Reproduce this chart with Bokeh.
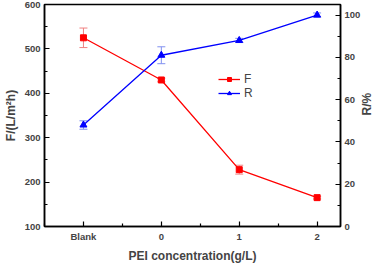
import math
from bokeh.plotting import figure
from bokeh.models import (Range1d, LinearAxis, FixedTicker, Whisker, ColumnDataSource,
                          TeeHead, Legend, LegendItem)
from bokeh.embed import file_html
from bokeh.resources import INLINE

categories = ["Blank", "0", "1", "2"]
flux = [525, 430, 228, 165]
flux_err = [22, 4, 10, 3]
rejection = [48, 81, 88, 100]
rejection_err = [2, 4, 1, 1]

xs = list(range(len(categories)))
FONT = "Liberation Sans"

p = figure(width=362, height=254, output_backend="svg", toolbar_location=None,
           x_range=Range1d(-0.5, 3.3), y_range=Range1d(100, 600),
           min_border_left=30, min_border_right=36, min_border_top=4, min_border_bottom=28)
p.frame_width = 296
p.frame_height = 222
p.xgrid.visible = False
p.ygrid.visible = False
p.outline_line_color = "black"
p.outline_line_width = 1.5
p.background_fill_color = "white"

p.extra_y_ranges = {"r": Range1d(0, 105)}
ax_r = LinearAxis(y_range_name="r", axis_label="R/%")
p.add_layout(ax_r, "right")

src_f = ColumnDataSource(dict(x=xs, y=flux,
                              lo=[a - b for a, b in zip(flux, flux_err)],
                              hi=[a + b for a, b in zip(flux, flux_err)]))
src_r = ColumnDataSource(dict(x=xs, y=rejection,
                              lo=[a - b for a, b in zip(rejection, rejection_err)],
                              hi=[a + b for a, b in zip(rejection, rejection_err)]))

wf = Whisker(source=src_f, base="x", lower="lo", upper="hi", line_color="#f08080",
             line_width=1,
             upper_head=TeeHead(size=8, line_color="#f08080"),
             lower_head=TeeHead(size=8, line_color="#f08080"))
wr = Whisker(source=src_r, base="x", lower="lo", upper="hi", line_color="#8090f0",
             line_width=1, y_range_name="r",
             upper_head=TeeHead(size=8, line_color="#8090f0"),
             lower_head=TeeHead(size=8, line_color="#8090f0"))
p.add_layout(wf)
p.add_layout(wr)

lf = p.line("x", "y", source=src_f, color="red", line_width=1.3)
mf = p.scatter("x", "y", source=src_f, marker="square", size=6, color="red")
lr = p.line("x", "y", source=src_r, color="blue", line_width=1.3, y_range_name="r")
mr = p.scatter("x", "y", source=src_r, marker="triangle", size=7, color="blue", y_range_name="r")

legend = Legend(items=[LegendItem(label="F", renderers=[lf, mf]),
                       LegendItem(label="R", renderers=[lr, mr])],
                location=(174, 126), border_line_color=None, background_fill_alpha=0,
                label_text_font=FONT, label_text_font_size="12px",
                label_text_line_height=0.9,
                glyph_width=22, glyph_height=10, label_height=10, spacing=0,
                padding=0, margin=0, label_standoff=4)
p.add_layout(legend, "center")

p.xaxis.ticker = FixedTicker(ticks=xs, minor_ticks=[-0.5, 0.5, 1.5, 2.5])
p.xaxis.major_label_overrides = {i: c for i, c in zip(xs, categories)}
p.xaxis.axis_label = "PEI concentration(g/L)"
p.yaxis[0].axis_label = "F/(L/m²h)"
p.yaxis[0].ticker = FixedTicker(ticks=[100, 200, 300, 400, 500, 600],
                                minor_ticks=[150, 250, 350, 450, 550])
ax_r.ticker = FixedTicker(ticks=[0, 20, 40, 60, 80, 100],
                          minor_ticks=[10, 30, 50, 70, 90])

for ax in [p.xaxis[0], p.yaxis[0], ax_r]:
    ax.axis_line_width = 1.5
    ax.major_tick_in = 5
    ax.major_tick_out = 0
    ax.minor_tick_in = 3
    ax.minor_tick_out = 0
    ax.major_tick_line_width = 1.2
    ax.minor_tick_line_width = 1.2
    ax.major_label_text_font = FONT
    ax.major_label_text_font_style = "bold"
    ax.major_label_text_font_size = "9.5px"
    ax.axis_label_text_font = FONT
    ax.axis_label_text_font_style = "bold"
    ax.axis_label_text_font_size = "12px"
    ax.major_label_standoff = 4
    ax.axis_label_standoff = 4

ax_r.axis_label_orientation = math.pi / 2

open("out.html", "w").write(file_html(p, INLINE))
